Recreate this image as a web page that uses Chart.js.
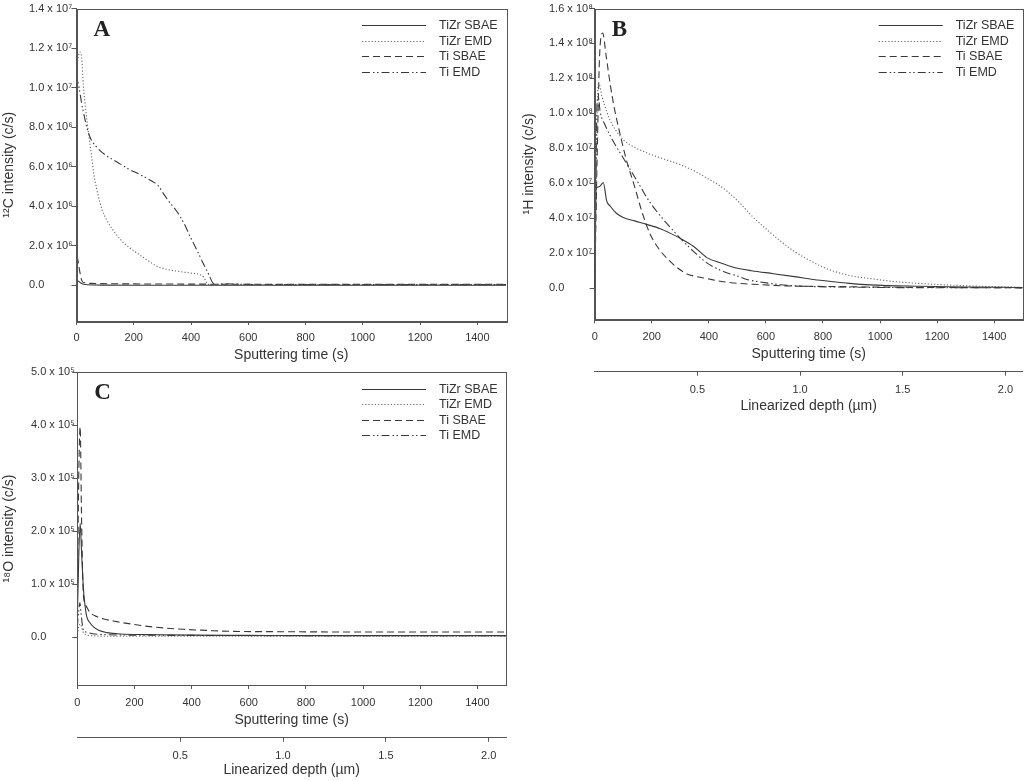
<!DOCTYPE html>
<html>
<head>
<meta charset="utf-8">
<script src="https://cdn.jsdelivr.net/npm/chart.js@4.4.1/dist/chart.umd.min.js"></script>
<style>
html,body{margin:0;padding:0;background:#fff;}
body{width:1024px;height:781px;position:relative;overflow:hidden;}
.panel{position:absolute;}
#pA{left:0;top:0;width:515px;height:365px;}
#pB{left:520px;top:0;width:504px;height:420px;}
#pC{left:0;top:360px;width:515px;height:421px;}
</style>
</head>
<body>
<div class="panel" id="pA"><canvas id="cA"></canvas></div>
<div class="panel" id="pB"><canvas id="cB"></canvas></div>
<div class="panel" id="pC"><canvas id="cC"></canvas></div>
<script>
// ---------- shared labels / ticks ----------
const seriesLabels = ['TiZr SBAE', 'TiZr EMD', 'Ti SBAE', 'Ti EMD'];
const timeTicks = [0, 200, 400, 600, 800, 1000, 1200, 1400];
const depthTicks = [0.5, 1.0, 1.5, 2.0];
const xTitle = 'Sputtering time (s)';
const depthTitle = 'Linearized depth (\u00b5m)';

// ---------- Panel A : 12C ----------
const aYTicks = [0, 2e6, 4e6, 6e6, 8e6, 1.0e7, 1.2e7, 1.4e7];
const aTiZrSbaeT = [0, 3, 8, 15, 25, 40, 60, 100, 200, 400, 600, 800, 1000, 1200, 1500];
const aTiZrSbaeY = [2.2e5, 2.5e5, 2.0e5, 1.2e5, 6e4, 3e4, 2e4, 1.5e4, 1e4, 1e4, 1e4, 1e4, 1e4, 1e4, 1e4];
const aTiZrEmdT = [0, 4, 12, 18, 24, 32, 42, 52, 62, 75, 90, 110, 135, 165, 200, 240, 280, 320, 360, 400, 430, 445, 452, 458, 470, 500, 600, 800, 1000, 1200, 1500];
const aTiZrEmdY = [1.10e7, 1.14e7, 1.18e7, 1.15e7, 1.01e7, 8.9e6, 7.7e6, 6.6e6, 5.5e6, 4.6e6, 3.8e6, 3.2e6, 2.65e6, 2.15e6, 1.75e6, 1.35e6, 9.8e5, 8.0e5, 7.0e5, 6.2e5, 5.5e5, 4.0e5, 2.0e5, 6e4, 4e4, 3e4, 3e4, 3e4, 3e4, 3e4, 3e4];
const aTiSbaeT = [0, 3, 8, 14, 20, 30, 50, 80, 150, 300, 500, 800, 1000, 1200, 1500];
const aTiSbaeY = [1.35e6, 1.4e6, 1.0e6, 5e5, 2e5, 1.3e5, 1.0e5, 9e4, 8e4, 7e4, 6e4, 5e4, 5e4, 5e4, 5e4];
const aTiEmdT = [0, 4, 10, 18, 28, 36, 50, 70, 100, 140, 180, 222, 260, 285, 303, 325, 350, 375, 396, 420, 443, 462, 478, 490, 520, 600, 800, 1000, 1200, 1500];
const aTiEmdY = [1.0e7, 1.03e7, 9.9e6, 9.2e6, 8.5e6, 8.0e6, 7.4e6, 7.0e6, 6.6e6, 6.25e6, 5.9e6, 5.6e6, 5.3e6, 5.05e6, 4.65e6, 4.2e6, 3.75e6, 3.15e6, 2.5e6, 1.8e6, 1.1e6, 5.5e5, 1.0e5, 6e4, 8e4, 5e4, 4e4, 4e4, 4e4, 4e4];

// ---------- Panel B : 1H ----------
const bYTicks = [0, 2e7, 4e7, 6e7, 8e7, 1.0e8, 1.2e8, 1.4e8, 1.6e8];
const bTiZrSbaeT = [0, 5, 15, 22, 30, 42, 54, 75, 100, 140, 182, 230, 264, 300, 346, 393, 440, 486, 550, 626, 700, 790, 880, 965, 1140, 1300, 1500];
const bTiZrSbaeY = [5e5, 5.7e7, 5.8e7, 5.9e7, 6.05e7, 5.0e7, 4.7e7, 4.3e7, 4.05e7, 3.85e7, 3.65e7, 3.4e7, 3.15e7, 2.85e7, 2.4e7, 1.75e7, 1.45e7, 1.2e7, 1.0e7, 8.3e6, 6.6e6, 4.5e6, 3.0e6, 1.9e6, 1.1e6, 7e5, 4e5];
const bTiZrEmdT = [0, 5, 10, 15, 25, 42, 60, 77, 100, 124, 160, 205, 250, 299, 350, 393, 430, 463, 510, 556, 600, 649, 700, 754, 800, 848, 900, 965, 1050, 1140, 1300, 1500];
const bTiZrEmdY = [1e6, 6e7, 1.1e8, 1.17e8, 1.1e8, 1.01e8, 9.4e7, 8.96e7, 8.5e7, 8.2e7, 7.9e7, 7.6e7, 7.35e7, 7.07e7, 6.7e7, 6.3e7, 5.95e7, 5.56e7, 4.85e7, 4.05e7, 3.4e7, 2.72e7, 2.1e7, 1.59e7, 1.2e7, 9.2e6, 7.0e6, 5.5e6, 3.8e6, 2.7e6, 1.4e6, 4e5];
const bTiSbaeT = [0, 8, 18, 28, 40, 55, 70, 89, 110, 141, 165, 194, 229, 260, 287, 322, 360, 393, 440, 486, 550, 673, 800, 1000, 1200, 1500];
const bTiSbaeY = [5e5, 7e7, 1.36e8, 1.46e8, 1.33e8, 1.16e8, 1.02e8, 8.8e7, 7.4e7, 5.75e7, 4.4e7, 3.1e7, 2.16e7, 1.6e7, 1.2e7, 8.3e6, 6.5e6, 5.5e6, 4.0e6, 3.0e6, 2.3e6, 1.3e6, 1.0e6, 6e5, 4e5, 2e5];
const bTiEmdT = [0, 4, 8, 13, 19, 36, 65, 100, 135, 159, 182, 217, 264, 300, 340, 393, 451, 500, 533, 580, 650, 731, 900, 1100, 1300, 1500];
const bTiEmdY = [5e5, 5e7, 1.05e8, 1.09e8, 1.01e8, 9.35e7, 8.4e7, 7.45e7, 6.5e7, 5.85e7, 5.2e7, 4.4e7, 3.5e7, 2.85e7, 2.2e7, 1.45e7, 9.5e6, 7e6, 5e6, 3.6e6, 2e6, 1.1e6, 6e5, 3e5, 2.5e5, 2e5];

// ---------- Panel C : 18O ----------
const cYTicks = [0, 1e5, 2e5, 3e5, 4e5, 5e5];
const cTiZrSbaeT = [0, 5, 10, 15, 21, 27, 33, 45, 56, 75, 103, 150, 250, 400, 600, 800, 1000, 1200, 1500];
const cTiZrSbaeY = [3e4, 1.5e5, 2.15e5, 1.6e5, 9.5e4, 6e4, 3.9e4, 2.7e4, 2.0e4, 1.3e4, 8.7e3, 6e3, 5e3, 4e3, 3.5e3, 3e3, 3e3, 3e3, 3e3];
const cTiZrEmdT = [0, 5, 10, 20, 30, 50, 100, 200, 400, 800, 1200, 1500];
const cTiZrEmdY = [5e3, 2e4, 2.5e4, 1e4, 5e3, 3e3, 2e3, 2e3, 2e3, 2e3, 2e3, 2e3];
const cTiSbaeT = [0, 5, 10, 15, 21, 28, 35, 44, 60, 90, 138, 200, 254, 371, 450, 546, 700, 900, 1100, 1300, 1500];
const cTiSbaeY = [5e4, 3.0e5, 3.97e5, 2.2e5, 8.3e4, 6.2e4, 5.5e4, 4.7e4, 4.1e4, 3.5e4, 2.94e4, 2.4e4, 2.0e4, 1.5e4, 1.3e4, 1.1e4, 1.05e4, 1.0e4, 1.0e4, 1.0e4, 1.0e4];
const cTiEmdT = [0, 5, 9, 14, 21, 30, 50, 100, 200, 400, 800, 1200, 1500];
const cTiEmdY = [2e4, 5e4, 6.5e4, 4e4, 1.4e4, 1.0e4, 7e3, 5e3, 4e3, 3.5e3, 3e3, 3e3, 3e3];

// ---------- styles ----------
const textColor = '#333333';
const axisColor = '#555555';
const fontFam = "'Liberation Sans', Arial, Helvetica, sans-serif";
const lineStyles = [
  { dash: [], color: '#383838', width: 1.1 },
  { dash: [1.2, 2], color: '#6a6a6a', width: 1.1 },
  { dash: [7, 4], color: '#383838', width: 1.1 },
  { dash: [8, 3, 1.5, 2.5, 1.5, 3], color: '#383838', width: 1.1 }
];

const SUP = { '0': '\u2070', '1': '\u00b9', '2': '\u00b2', '3': '\u00b3', '4': '\u2074', '5': '\u2075', '6': '\u2076', '7': '\u2077', '8': '\u2078', '9': '\u2079' };
function sciLabel(v) {
  if (v === 0) return '0.0';
  const e = Math.floor(Math.log10(Math.abs(v)) + 1e-9);
  const m = v / Math.pow(10, e);
  return m.toFixed(1) + ' x 10' + String(e).split('').map(d => SUP[d]).join('');
}

function ds(t, y, i) {
  const s = lineStyles[i];
  return {
    label: seriesLabels[i],
    data: t.map((tv, k) => ({ x: tv, y: y[k] })),
    borderColor: s.color, borderDash: s.dash, borderWidth: s.width,
    pointRadius: 0, fill: false, cubicInterpolationMode: 'monotone'
  };
}

const deco = {
  id: 'panelDeco',
  afterDatasetsDraw(chart, args, opts) {
    const ctx = chart.ctx, a = chart.chartArea;
    ctx.save();
    // frame
    ctx.strokeStyle = axisColor; ctx.lineWidth = 1;
    ctx.strokeRect(Math.round(a.left) + 0.5, Math.round(a.top) + 0.5, Math.round(a.right - a.left), Math.round(a.bottom - a.top));
    // panel letter
    ctx.fillStyle = '#222';
    ctx.font = "bold 23px 'Liberation Serif', 'Times New Roman', serif";
    ctx.textAlign = 'left'; ctx.textBaseline = 'alphabetic';
    ctx.fillText(opts.letter, a.left + 17, a.top + 27);
    // legend inside plot area
    ctx.font = '12.5px ' + fontFam;
    ctx.textBaseline = 'middle';
    chart.data.datasets.forEach((d, i) => {
      const y = Math.round(a.top + 16.5 + i * 15.5) + 0.5;
      ctx.beginPath();
      ctx.setLineDash(d.borderDash || []);
      ctx.strokeStyle = d.borderColor; ctx.lineWidth = d.borderWidth;
      ctx.moveTo(a.right - 144, y); ctx.lineTo(a.right - 80, y);
      ctx.stroke();
      ctx.setLineDash([]);
      ctx.fillStyle = textColor;
      ctx.fillText(d.label, a.right - 67, y);
    });
    // y-axis title
    ctx.translate(opts.yTitleX, (a.top + a.bottom) / 2);
    ctx.rotate(-Math.PI / 2);
    ctx.font = '14px ' + fontFam;
    ctx.textAlign = 'center'; ctx.textBaseline = 'middle';
    ctx.fillStyle = textColor;
    ctx.fillText(opts.yTitle, 0, 0);
    ctx.restore();
  }
};

const tickFont = { family: fontFam, size: 11 };
const titleFont = { family: fontFam, size: 14 };

function makeChart(id, p) {
  const scales = {
    x: {
      type: 'linear', min: 0, max: 1500, position: 'bottom',
      afterBuildTicks: s => { s.ticks = timeTicks.map(v => ({ value: v })); },
      afterFit: s => { s.height = p.xH; },
      ticks: { font: tickFont, color: textColor, padding: p.xTickPad, maxRotation: 0, autoSkip: false, callback: v => String(v) },
      grid: { drawOnChartArea: false, tickLength: 4, color: axisColor },
      border: { color: axisColor, width: 1 },
      title: { display: true, text: xTitle, font: titleFont, color: textColor, padding: { top: 0, bottom: p.xTitlePadB } }
    }
  };
  if (p.depth) {
    scales.x2 = {
      type: 'linear', min: 0, max: 2.084, position: 'bottom',
      afterBuildTicks: s => { s.ticks = depthTicks.map(v => ({ value: v })); },
      afterFit: s => { s.height = p.x2H; },
      ticks: { font: tickFont, color: textColor, padding: p.x2TickPad, maxRotation: 0, autoSkip: false, callback: v => v.toFixed(1) },
      grid: { drawOnChartArea: false, tickLength: 4, color: axisColor },
      border: { color: axisColor, width: 1 },
      title: { display: true, text: depthTitle, font: titleFont, color: textColor, padding: { top: 0, bottom: p.x2TitlePadB } }
    };
  }
  scales.y = {
    type: 'linear', min: p.yMin, max: p.yMax,
    afterBuildTicks: s => { s.ticks = p.yTicks.map(v => ({ value: v })); },
    afterFit: s => { s.width = p.yW; },
    ticks: { font: { family: fontFam, size: 11, lineHeight: 1 }, color: textColor, crossAlign: 'far', padding: 3, callback: v => sciLabel(v) },
    grid: { drawOnChartArea: false, tickLength: 5, color: axisColor },
    border: { color: axisColor, width: 1 }
  };
  return new Chart(document.getElementById(id), {
    type: 'line',
    data: { datasets: p.datasets },
    options: {
      responsive: true, maintainAspectRatio: false, animation: false,
      layout: { padding: { left: p.padL, top: p.padT, right: p.padR, bottom: 0 } },
      plugins: { legend: { display: false }, tooltip: { enabled: false }, panelDeco: { letter: p.letter, yTitle: p.yTitle, yTitleX: p.yTitleX } },
      scales: scales
    },
    plugins: [deco]
  });
}

makeChart('cA', {
  datasets: [ds(aTiZrSbaeT, aTiZrSbaeY, 0), ds(aTiZrEmdT, aTiZrEmdY, 1), ds(aTiSbaeT, aTiSbaeY, 2), ds(aTiEmdT, aTiEmdY, 3)],
  yMin: -1.8e6, yMax: 1.4e7, yTicks: aYTicks,
  padL: 29, padT: 6, padR: 9, yW: 47.5,
  xH: 44, xTickPad: 6, xTitlePadB: 1.6,
  letter: 'A', yTitle: '\u00b9\u00b2C intensity (c/s)', yTitleX: 9
});

makeChart('cB', {
  datasets: [ds(bTiZrSbaeT, bTiZrSbaeY, 0), ds(bTiZrEmdT, bTiZrEmdY, 1), ds(bTiSbaeT, bTiSbaeY, 2), ds(bTiEmdT, bTiEmdY, 3)],
  yMin: -1.78e7, yMax: 1.6e8, yTicks: bYTicks,
  padL: 29, padT: 6, padR: 1.3, yW: 45.7,
  xH: 52.4, xTickPad: 7.5, xTitlePadB: 9.3,
  depth: true, x2H: 48.3, x2TickPad: 7.4, x2TitlePadB: 5.6,
  letter: 'B', yTitle: '\u00b9H intensity (c/s)', yTitleX: 9
});

makeChart('cC', {
  datasets: [ds(cTiZrSbaeT, cTiZrSbaeY, 0), ds(cTiZrEmdT, cTiZrEmdY, 1), ds(cTiSbaeT, cTiSbaeY, 2), ds(cTiEmdT, cTiEmdY, 3)],
  yMin: -0.9e5, yMax: 5e5, yTicks: cYTicks,
  padL: 31, padT: 12, padR: 9, yW: 46.3,
  xH: 52.7, xTickPad: 7.4, xTitlePadB: 9.3,
  depth: true, x2H: 43.3, x2TickPad: 7.4, x2TitlePadB: 2.6,
  letter: 'C', yTitle: '\u00b9\u2078O intensity (c/s)', yTitleX: 9
});
</script>
</body>
</html>
